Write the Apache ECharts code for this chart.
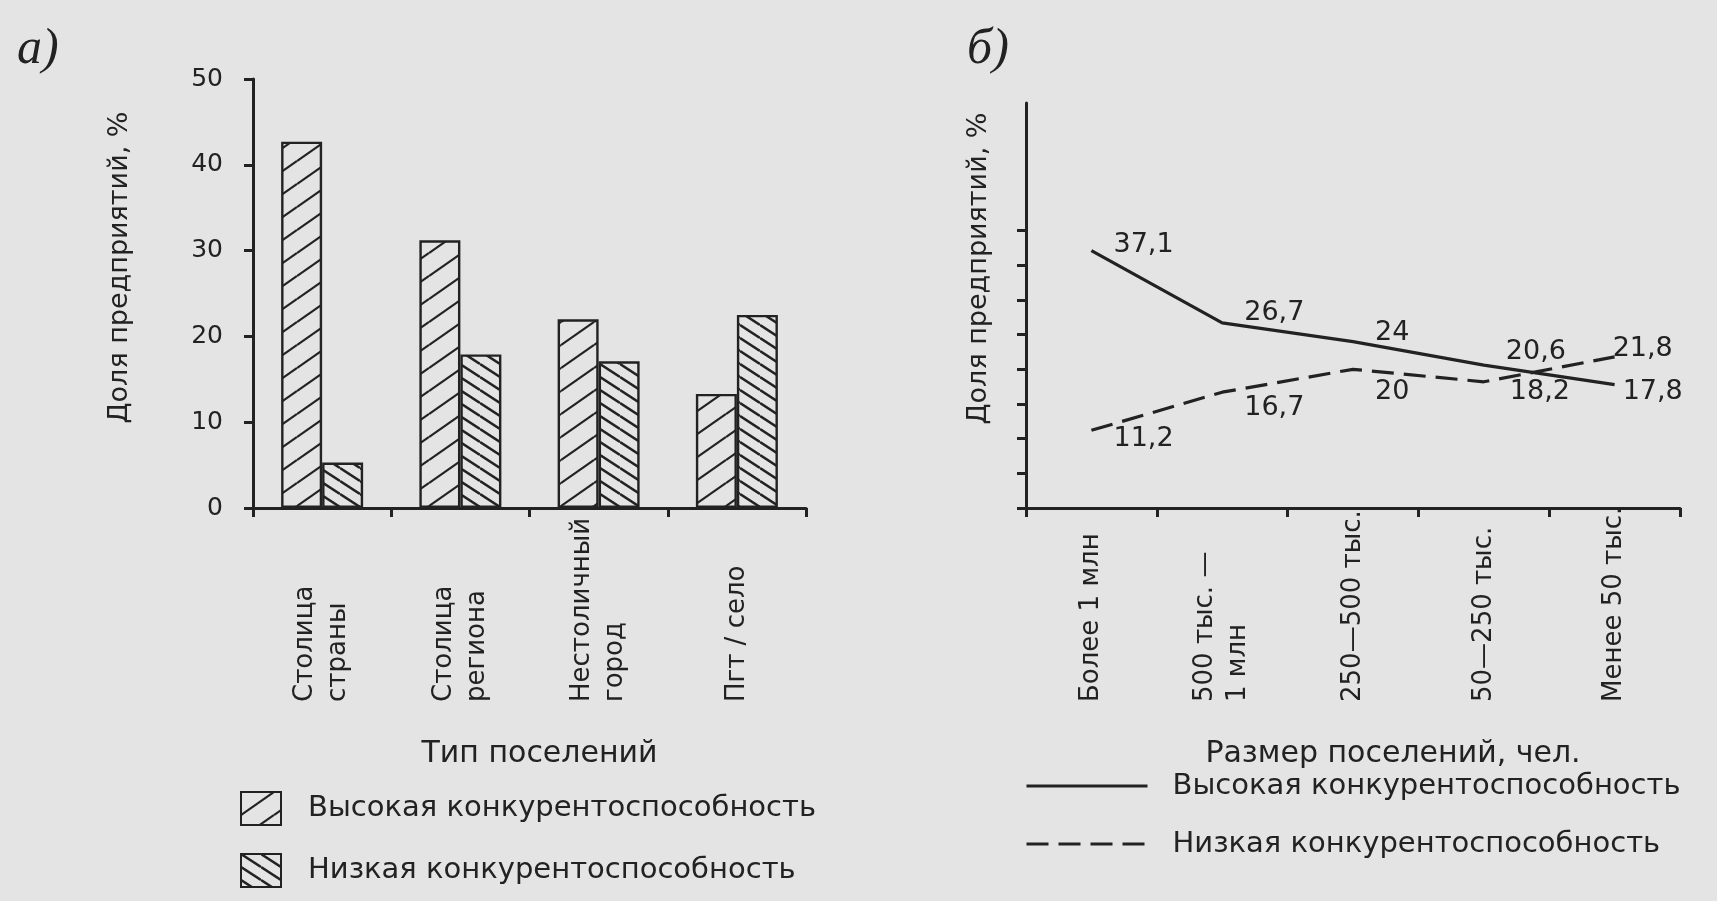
<!DOCTYPE html>
<html>
<head>
<meta charset="utf-8">
<script src="https://cdn.jsdelivr.net/npm/echarts@6/dist/echarts.min.js"></script>
<style>
html,body{margin:0;padding:0;background:#e4e4e4;}
#chart{width:1717px;height:901px;}
</style>
</head>
<body>
<div id="chart"></div>
<script>
// ---- data (panel а) ----
const categoriesA = ['Столица\nстраны', 'Столица\nрегиона', 'Нестоличный\nгород', 'Пгт / село'];
const highA = [42.7, 31.2, 22.0, 13.3];
const lowA = [5.3, 17.9, 17.1, 22.5];
const yTicksA = [0, 10, 20, 30, 40, 50];

// ---- data (panel б) ----
const categoriesB = ['Более 1 млн', '500 тыс. —\n1 млн', '250—500 тыс.', '50—250 тыс.', 'Менее 50 тыс.'];
const highB = [37.1, 26.7, 24, 20.6, 17.8];
const lowB = [11.2, 16.7, 20, 18.2, 21.8];
const yTicksB = [0, 5, 10, 15, 20, 25, 30, 35, 40];

const seriesNames = ['Высокая конкурентоспособность', 'Низкая конкурентоспособность'];

// ---- styling ----
const INK = '#222222';
const FONT = 'DejaVu Sans';

function makeHatch(w, h, rising, lw) {
  const c = document.createElement('canvas');
  c.width = w; c.height = h;
  const ctx = c.getContext('2d');
  ctx.fillStyle = '#e4e4e4';
  ctx.fillRect(0, 0, w, h);
  ctx.strokeStyle = INK;
  ctx.lineWidth = lw;
  for (let n = -1; n <= 1; n++) {
    ctx.beginPath();
    if (rising) { ctx.moveTo(0, h + n * h); ctx.lineTo(w, n * h); }
    else { ctx.moveTo(0, n * h); ctx.lineTo(w, h + n * h); }
    ctx.stroke();
  }
  return c;
}
const hatchHigh = makeHatch(33, 23, true, 2.2);
const hatchLow = makeHatch(20, 13, false, 2.5);

const solidLabelOffsets = [[0, -6], [0, -10], [0, -9], [0, -13], [-14, 7]];
const dashLabelOffsets = [[0, 9], [0, 16], [0, 23], [4, 10], [-24, -8]];
const fmt = p => String(p.value).replace('.', ',');

const chart = echarts.init(document.getElementById('chart'), null, {renderer: 'canvas'});

const axisLineStyle = {color: INK, width: 3};
const catLabel = {interval: 0, rotate: 90, align: 'left', verticalAlign: 'middle', margin: 194, fontSize: 26, color: INK, lineHeight: 33, fontFamily: FONT};

const option = {
  backgroundColor: '#e4e4e4',
  animation: false,
  textStyle: {fontFamily: FONT, color: INK},
  title: [
    {text: 'а)', left: 12, top: 20, textStyle: {fontFamily: 'Liberation Serif', fontStyle: 'italic', fontWeight: 'normal', fontSize: 50, color: INK}},
    {text: 'б)', left: 962, top: 20, textStyle: {fontFamily: 'Liberation Serif', fontStyle: 'italic', fontWeight: 'normal', fontSize: 50, color: INK}}
  ],
  grid: [
    {left: 253, top: 79, width: 553, height: 429},
    {left: 1026, top: 103, width: 654, height: 405}
  ],
  legend: [
    {
      data: seriesNames.slice(),
      orient: 'vertical', left: 240, top: 791, padding: 0,
      itemWidth: 40, itemHeight: 33, itemGap: 27, icon: 'rect', selectedMode: false,
      textStyle: {fontFamily: FONT, fontSize: 29, color: INK, lineHeight: 34, padding: [0, 0, 0, 22]}
    },
    {
      data: [seriesNames[0] + ' ', seriesNames[1] + ' '],
      orient: 'vertical', left: 1025, top: 769, padding: 0,
      itemWidth: 121, itemHeight: 34, itemGap: 24, selectedMode: false,
      itemStyle: {opacity: 0},
      lineStyle: {width: 3},
      textStyle: {fontFamily: FONT, fontSize: 29, color: INK, lineHeight: 34, padding: [0, 0, 0, 20]}
    }
  ],
  xAxis: [
    {
      gridIndex: 0, type: 'category', data: categoriesA,
      name: 'Тип поселений', nameLocation: 'middle', nameGap: 231,
      nameTextStyle: {fontFamily: FONT, fontSize: 30, color: INK, padding: [0, 0, 0, 20]},
      axisLine: {lineStyle: axisLineStyle},
      axisTick: {show: true, length: 9, lineStyle: {color: INK, width: 3}},
      axisLabel: catLabel,
      splitLine: {show: false}
    },
    {
      gridIndex: 1, type: 'category', data: categoriesB,
      name: 'Размер поселений, чел.', nameLocation: 'middle', nameGap: 231,
      nameTextStyle: {fontFamily: FONT, fontSize: 30, color: INK, padding: [0, 0, 0, 80]},
      axisLine: {lineStyle: axisLineStyle},
      axisTick: {show: true, length: 9, lineStyle: {color: INK, width: 3}},
      axisLabel: catLabel,
      splitLine: {show: false}
    }
  ],
  yAxis: [
    {
      gridIndex: 0, type: 'value', min: yTicksA[0], max: yTicksA[yTicksA.length - 1], interval: 10,
      name: 'Доля предприятий, %', nameLocation: 'middle', nameGap: 120,
      nameTextStyle: {fontFamily: FONT, fontSize: 27, color: INK, padding: [0, 0, 0, 52]},
      axisLine: {show: true, lineStyle: axisLineStyle},
      axisTick: {show: true, length: 9, lineStyle: {color: INK, width: 3}},
      axisLabel: {fontSize: 25, color: INK, margin: 30, fontFamily: FONT},
      splitLine: {show: false}
    },
    {
      gridIndex: 1, type: 'value', min: 0, max: 58.4,
      name: 'Доля предприятий, %', nameLocation: 'middle', nameGap: 34,
      nameTextStyle: {fontFamily: FONT, fontSize: 27, color: INK, padding: [0, 0, 0, 74]},
      axisLine: {show: true, lineStyle: axisLineStyle},
      axisTick: {show: true, length: 9, lineStyle: {color: INK, width: 3}, customValues: yTicksB},
      axisLabel: {show: false},
      splitLine: {show: false}
    }
  ],
  series: [
    {
      name: seriesNames[0], type: 'bar', xAxisIndex: 0, yAxisIndex: 0,
      data: highA, barWidth: 41, barGap: '0%',
      itemStyle: {color: {image: hatchHigh, repeat: 'repeat'}, borderColor: INK, borderWidth: 2.4}
    },
    {
      name: seriesNames[1], type: 'bar', xAxisIndex: 0, yAxisIndex: 0,
      data: lowA, barWidth: 41, barGap: '0%',
      itemStyle: {color: {image: hatchLow, repeat: 'repeat'}, borderColor: INK, borderWidth: 2.4}
    },
    {
      name: seriesNames[0] + ' ', type: 'line', xAxisIndex: 1, yAxisIndex: 1,
      data: highB.map((v, i) => ({value: v, label: {offset: solidLabelOffsets[i]}})),
      symbol: 'circle', symbolSize: 0.1, showSymbol: true,
      lineStyle: {color: INK, width: 3.2, type: 'solid'},
      itemStyle: {color: INK},
      label: {show: true, position: 'right', distance: 22, formatter: fmt, fontSize: 27, color: INK, fontFamily: FONT}
    },
    {
      name: seriesNames[1] + ' ', type: 'line', xAxisIndex: 1, yAxisIndex: 1,
      data: lowB.map((v, i) => ({value: v, label: {offset: dashLabelOffsets[i]}})),
      symbol: 'circle', symbolSize: 0.1, showSymbol: true,
      lineStyle: {color: INK, width: 3.2, type: [22, 10]},
      itemStyle: {color: INK},
      label: {show: true, position: 'right', distance: 22, formatter: fmt, fontSize: 27, color: INK, fontFamily: FONT}
    }
  ]
};
chart.setOption(option);
</script>
</body>
</html>
